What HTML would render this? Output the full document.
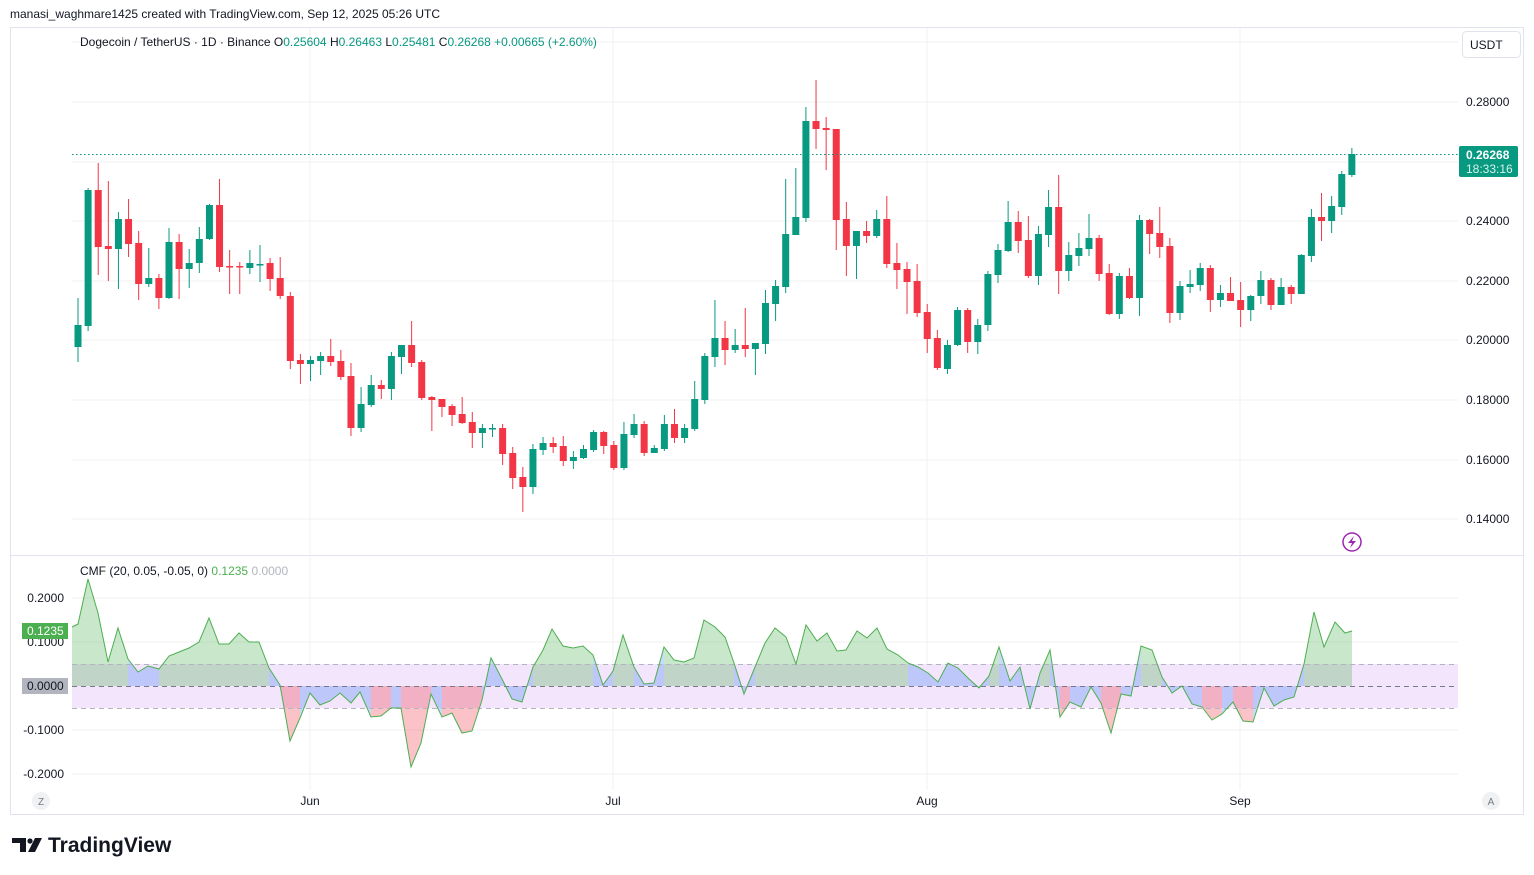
<!DOCTYPE html>
<html><head><meta charset="utf-8"><style>
html,body{margin:0;padding:0;background:#fff;width:1534px;height:875px;overflow:hidden;font-family:"Liberation Sans",sans-serif;}
svg{position:absolute;left:0;top:0}
</style></head><body>
<svg id="s" width="1534" height="875" xmlns="http://www.w3.org/2000/svg" font-family="Liberation Sans, sans-serif"></svg>
<script>
const C=[[347,325,298,362],[326,190,188,331],[190,247,163,275],[246,249,181,281],[249,219,212,289],[219,244,199,257],[243,284,231,300],[284,278,248,287],[278,298,274,309],[298,242,228,299],[242,269,234,299],[269,263,249,288],[263,239,227,273],[239,205,204,240],[205,267,179,272],[266,267,250,294],[266,267,262,294],[268,263,250,274],[264,264,245,282],[263,279,258,291],[278,296,257,299],[296,361,292,369],[360,364,354,384],[364,360,356,381],[361,356,352,375],[356,362,339,366],[361,377,350,380],[376,428,363,436],[428,404,387,432],[405,385,375,407],[385,389,380,399],[389,356,352,400],[357,345,345,374],[345,363,321,367],[362,398,360,400],[397,400,396,431],[399,407,399,417],[406,415,404,426],[414,423,397,424],[422,433,412,448],[433,428,424,448],[428,428,424,437],[428,454,424,465],[453,478,447,489],[477,487,467,512],[487,449,444,494],[450,443,437,455],[443,447,437,453],[446,461,436,466],[461,457,451,469],[458,449,445,459],[450,432,430,452],[432,446,431,454],[445,468,441,470],[468,434,422,470],[435,424,414,438],[424,453,421,456],[453,448,445,453],[449,424,415,451],[424,438,409,443],[438,428,424,443],[429,399,381,431],[400,356,353,404],[357,338,300,367],[338,350,321,365],[350,345,329,353],[345,349,308,357],[349,343,343,375],[344,303,290,354],[304,286,280,321],[287,234,179,293],[235,217,168,235],[218,121,107,222],[121,129,80,149],[128,130,117,170],[129,220,129,250],[219,246,202,276],[246,231,231,279],[231,236,221,243],[236,219,210,238],[219,264,196,268],[263,270,243,289],[269,282,262,314],[281,313,264,317],[312,339,304,353],[338,368,330,370],[369,345,340,374],[345,310,307,346],[310,342,308,353],[342,325,319,354],[325,274,271,331],[275,250,244,283],[251,222,201,252],[222,241,211,253],[240,276,216,278],[276,234,226,285],[235,207,190,247],[207,271,175,294],[271,255,242,281],[256,248,233,266],[249,238,214,256],[238,274,235,281],[273,314,264,315],[314,276,273,319],[276,298,268,299],[298,220,215,316],[220,234,219,254],[233,247,207,258],[246,313,238,323],[313,286,281,320],[287,284,270,293],[285,268,263,291],[268,300,265,312],[300,293,285,307],[293,301,277,300],[300,310,282,327],[310,296,295,321],[296,280,271,304],[280,305,278,310],[305,287,278,305],[287,294,285,304],[294,255,254,294],[256,217,209,262],[217,221,193,241],[221,206,196,233],[207,174,171,215],[175,154,148,177]];
const M=[[72,627],[78,624],[88,579],[98,613],[108,662],[118,628],[128,659],[138,672],[148,666],[159,669],[169,656],[179,652],[189,648],[199,642],[209,618],[219,644],[229,644],[239,633],[249,642],[259,642],[269,668],[280,685],[290,741],[300,718],[310,693],[320,705],[330,701],[340,693],[351,703],[360,692],[371,717],[381,716],[391,708],[401,708],[411,767],[421,743],[431,694],[442,717],[452,713],[462,733],[472,731],[482,700],[491,658],[502,679],[512,699],[522,702],[533,667],[543,650],[552,629],[563,646],[573,648],[583,646],[593,655],[603,685],[613,671],[623,635],[634,667],[644,684],[654,683],[664,647],[674,660],[684,662],[694,658],[704,620],[715,627],[725,637],[734,663],[744,694],[755,667],[765,643],[775,628],[786,637],[796,664],[806,625],[817,641],[827,633],[837,651],[846,650],[857,631],[867,638],[877,628],[887,649],[898,655],[908,663],[918,667],[928,673],[938,682],[948,663],[958,668],[969,679],[979,688],[989,676],[999,647],[1010,681],[1020,667],[1030,709],[1040,673],[1050,650],[1060,717],[1070,702],[1081,707],[1091,687],[1101,703],[1111,733],[1121,694],[1131,696],[1141,646],[1152,650],[1162,677],[1172,693],[1182,686],[1192,704],[1202,707],[1212,720],[1222,714],[1233,702],[1243,721],[1253,722],[1264,688],[1274,706],[1284,700],[1294,697],[1304,664],[1314,612],[1324,647],[1335,622],[1345,633],[1352,631]];
let h='';
// frame
h+='<rect x="10.5" y="27.5" width="1513" height="787" fill="none" stroke="#e0e3eb"/>';
h+='<line x1="10" y1="555.5" x2="1524" y2="555.5" stroke="#e0e3eb"/>';
// grid price
[[102,'0.28000'],[162,'0.26000'],[221,'0.24000'],[281,'0.22000'],[340,'0.20000'],[400,'0.18000'],[460,'0.16000'],[519,'0.14000']].forEach(([y,t])=>{
 h+=`<line x1="72" y1="${y}" x2="1458" y2="${y}" stroke="#f0f1f3"/>`;
 h+=`<text x="1466" y="${y+4}" font-size="12" fill="#131722">${t}</text>`;});
h+='<line x1="72" y1="42" x2="1458" y2="42" stroke="#f0f1f3"/>';
[310,613,927,1240].forEach(x=>{h+=`<line x1="${x}" y1="28" x2="${x}" y2="790" stroke="#f0f1f3"/>`;});
// indicator grid
[[598,'0.2000'],[642,'0.1000'],[730,'-0.1000'],[774,'-0.2000']].forEach(([y,t])=>{
 h+=`<line x1="72" y1="${y}" x2="1458" y2="${y}" stroke="#f0f1f3"/>`;
 h+=`<text x="64" y="${y+4}" font-size="12" fill="#131722" text-anchor="end">${t}</text>`;});
// band
h+='<rect x="72" y="664" width="1386" height="44" fill="#f3e5fc"/>';
// cmf fills
for(let i=0;i<M.length-1;i++){const [x1,y1]=M[i],[x2,y2]=M[i+1];const v=(686-(y1+y2)/2)/440;
 let c=v>0.05?'rgba(76,175,80,0.3)':(v<-0.05?'rgba(242,54,69,0.3)':'rgba(33,110,243,0.25)');
 h+=`<polygon points="${x1},${y1} ${x2},${y2} ${x2},686 ${x1},686" fill="${c}"/>`;}
h+='<line x1="72" y1="664.5" x2="1458" y2="664.5" stroke="#b2b5be" stroke-dasharray="5,4"/>';
h+='<line x1="72" y1="708.5" x2="1458" y2="708.5" stroke="#b2b5be" stroke-dasharray="5,4"/>';
h+='<line x1="72" y1="686.5" x2="1458" y2="686.5" stroke="#787b86" stroke-dasharray="5,4"/>';
h+=`<polyline points="${M.map(p=>p.join(',')).join(' ')}" fill="none" stroke="#4caf50" stroke-width="1"/>`;
// candles
C.forEach(([o,c,hi,lo],i)=>{const x=78+i*10.11;const col=c<=o?'#089981':'#f23645';
 const t=Math.min(o,c),b=Math.max(Math.max(o,c),t+1.5);
 h+=`<line x1="${x}" y1="${hi}" x2="${x}" y2="${lo}" stroke="${col}" stroke-width="1"/>`;
 h+=`<rect x="${x-3.5}" y="${t}" width="7" height="${b-t}" fill="${col}"/>`;});
// last price line
h+='<line x1="72" y1="154.5" x2="1458" y2="154.5" stroke="#089981" stroke-dasharray="1.5,2.5"/>';
h+='<rect x="1459" y="146" width="59" height="31" rx="2" fill="#089981"/>';
h+='<text x="1466" y="159" font-size="12" font-weight="bold" fill="#fff">0.26268</text>';
h+='<text x="1466" y="173" font-size="12" fill="#d7f2ec">18:33:16</text>';
h+='<rect x="1462.5" y="31.5" width="58" height="26" rx="4" fill="#fff" stroke="#e0e3eb"/>';
h+='<text x="1470" y="49" font-size="12" fill="#131722">USDT</text>';
// indicator labels
h+='<rect x="22" y="623" width="46" height="16" fill="#4caf50"/><text x="27" y="635" font-size="12" fill="#fff">0.1235</text>';
h+='<rect x="22" y="678" width="46" height="16" fill="#b2b5be"/><text x="27" y="690" font-size="12" fill="#131722">0.0000</text>';
// time axis
[[310,'Jun'],[613,'Jul'],[927,'Aug'],[1240,'Sep']].forEach(([x,t])=>{h+=`<text x="${x}" y="805" font-size="12" fill="#131722" text-anchor="middle">${t}</text>`;});
h+='<circle cx="41" cy="801" r="9" fill="#f0f1f3"/><text x="41" y="805" font-size="10" fill="#787b86" text-anchor="middle">Z</text>';
h+='<circle cx="1491" cy="801" r="9" fill="#f0f1f3"/><text x="1491" y="805" font-size="10" fill="#787b86" text-anchor="middle">A</text>';
// lightning
h+='<circle cx="1352" cy="542" r="9" fill="#fff" stroke="#9c27b0" stroke-width="1.5"/><path d="M1354 536 L1348 543 L1352 543 L1350 548 L1356 541 L1352 541 Z" fill="#9c27b0"/>';
// texts
h+='<text x="10" y="18" font-size="12" fill="#131722">manasi_waghmare1425 created with TradingView.com, Sep 12, 2025 05:26 UTC</text>';
h+='<text x="80" y="46" font-size="12" fill="#131722">Dogecoin / TetherUS · 1D · Binance <tspan fill="#131722">O</tspan><tspan fill="#089981">0.25604</tspan> <tspan fill="#131722">H</tspan><tspan fill="#089981">0.26463</tspan> <tspan fill="#131722">L</tspan><tspan fill="#089981">0.25481</tspan> <tspan fill="#131722">C</tspan><tspan fill="#089981">0.26268 +0.00665 (+2.60%)</tspan></text>';
h+='<text x="80" y="575" font-size="12" fill="#131722">CMF (20, 0.05, -0.05, 0) <tspan fill="#4caf50">0.1235</tspan> <tspan fill="#b2b5be">0.0000</tspan></text>';
// logo
h+='<path d="M12 838 H26 V852 H20 V843 H12 Z" fill="#131722"/><circle cx="30" cy="841" r="2.6" fill="#131722"/><path d="M35 838 H42 L35 852 H28 Z" fill="#131722"/>';
h+='<text x="48" y="852" font-size="21" font-weight="bold" fill="#131722">TradingView</text>';
document.getElementById('s').innerHTML=h;
</script>
</body></html>
